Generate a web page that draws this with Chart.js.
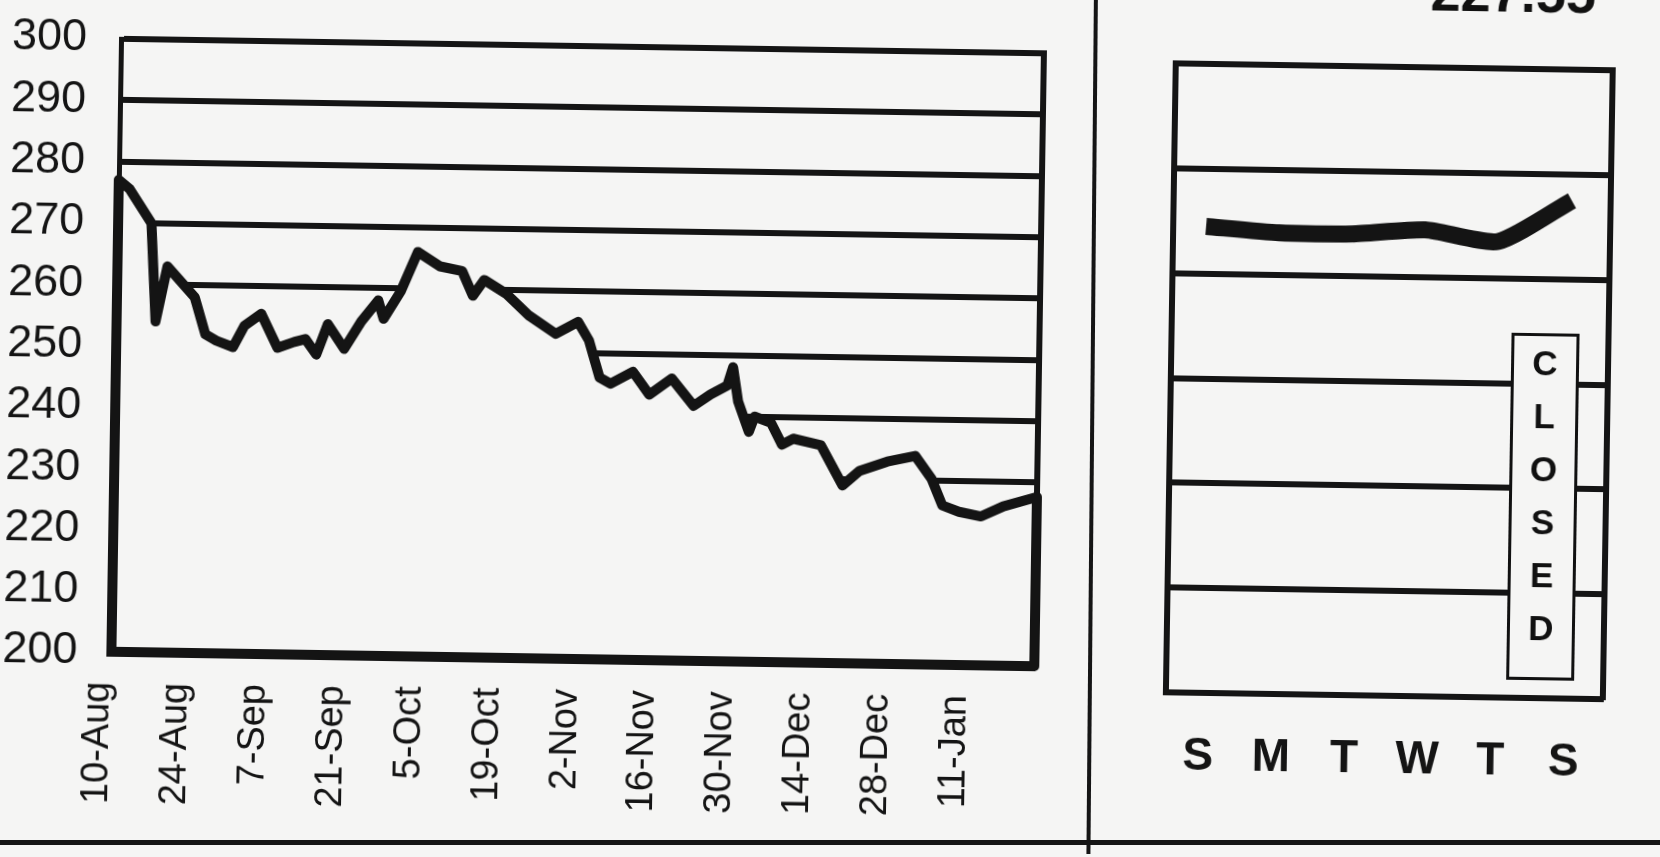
<!DOCTYPE html>
<html>
<head>
<meta charset="utf-8">
<script src="https://cdn.jsdelivr.net/npm/chart.js@4.4.1/dist/chart.umd.min.js"></script>
<style>
html,body{margin:0;padding:0;background:#f5f5f4;}
#page{position:absolute;left:0;top:0;width:1660px;height:857px;overflow:hidden;background:#f5f5f4;}
#rot{position:absolute;left:0;top:0;width:1660px;height:857px;transform-origin:830px 428px;transform:rotate(0.9deg);}
#wrapL{position:absolute;left:0;top:0;width:1090px;height:857px;}
#wrapR{position:absolute;left:1100px;top:0;width:560px;height:857px;}
#vline{position:absolute;left:1090px;top:-30px;width:4px;height:880px;background:#151515;transform:rotate(-0.4deg);}
#hline{position:absolute;left:-20px;top:840px;width:1700px;height:5px;background:#151515;}
#price{position:absolute;right:71px;top:-49px;line-height:54px;font:bold 54px "Liberation Sans",Arial,sans-serif;color:#111;white-space:nowrap;}
#closed{position:absolute;left:410px;top:322px;width:62px;height:341px;border:3px solid #111;background:#f5f5f4;
  display:flex;flex-direction:column;align-items:center;font:bold 35px "Liberation Sans",Arial,sans-serif;color:#111;}
#closed span{display:block;height:53px;line-height:53px;}
canvas{position:absolute;left:0;top:0;}
</style>
</head>
<body>
<div id="page">
  <div id="rot">
    <div id="wrapL"><canvas id="left" width="1090" height="857"></canvas></div>
    <div id="vline"></div>
    <div id="wrapR">
      <canvas id="right" width="560" height="857"></canvas>
      <div id="closed"><span>C</span><span>L</span><span>O</span><span>S</span><span>E</span><span>D</span></div>
    </div>
    <div id="price">227.55</div>
  </div>
  <div id="hline"></div>
</div>
<script>
// ---- data (days after 10-Aug, index value) ----
const dayNumbers = [0,2,6,7,9,14,16,18,21,23,26,29,32,34,36,38,41,44,47,48,51,54,58,62,64,66,70,74,79,83,85,87,89,93,96,100,104,107,110,111,112,114,115,118,120,122,127,131,134,139,144,147,149,152,156,160,166];
const indexValues = [277,275.5,270,254,263,258,252,251,250,253.5,255.5,250,251,251.5,249,254,250,254.5,258,255,259.5,266,263.7,263,259,261.6,259.4,256,253,255,252,246,245,247,243.3,246,241.6,243.5,245,248,242.4,237.5,240,239,235.5,236.5,235.5,229,231.4,233,234,230.3,226,225,224.3,226,227.6];
const tickDays = [0,14,28,42,56,70,84,98,112,126,140,154];
const tickLabels = ['10-Aug','24-Aug','7-Sep','21-Sep','5-Oct','19-Oct','2-Nov','16-Nov','30-Nov','14-Dec','28-Dec','11-Jan'];
const yTicks = [200,210,220,230,240,250,260,270,280,290,300];

const weekLabels = ['S','M','T','W','T','S'];
const weekValues = [226.9,226.8,226.8,226.9,226.7,227.5];
const weekTicks = [218,220,222,224,226,228,230];

const INK = '#141414';
const PAPER = '#f5f5f4';
const FONT = '"Liberation Sans", Arial, sans-serif';
Chart.defaults.font.family = FONT;
Chart.defaults.color = INK;

const noPad = s => { s.paddingTop = 0; s.paddingBottom = 0; s.paddingLeft = 0; s.paddingRight = 0; };

// ---- left chart ----
const yMin = yTicks[0], yMax = yTicks[yTicks.length-1];
const firstDay = dayNumbers[0], lastDay = dayNumbers[dayNumbers.length-1];
const pts = [{x: firstDay, y: yMin}]
  .concat(dayNumbers.map((d,i) => ({x: d, y: indexValues[i]})))
  .concat([{x: lastDay, y: yMin}]);

new Chart(document.getElementById('left'), {
  type: 'line',
  data: { datasets: [{
    data: pts,
    borderColor: INK,
    borderWidth: 10,
    borderJoinStyle: 'round',
    backgroundColor: PAPER,
    fill: 'start',
    pointRadius: 0,
    tension: 0,
    clip: false
  }]},
  options: {
    responsive: false, animation: false, devicePixelRatio: 1,
    layout: { padding: { left: 0, top: 50, right: 52, bottom: 4 } },
    plugins: { legend: { display: false }, tooltip: { enabled: false } },
    scales: {
      x: {
        type: 'linear', min: firstDay, max: lastDay,
        afterFit: s => { s.height = 190; noPad(s); },
        afterBuildTicks: s => { s.ticks = tickDays.map(v => ({ value: v })); },
        grid: { display: false, drawTicks: false },
        border: { display: true, color: INK, width: 10, z: 1 },
        ticks: {
          autoSkip: false, minRotation: 90, maxRotation: 90, padding: 30, labelOffset: -12,
          font: { size: 38 }, color: INK,
          callback: v => tickLabels[tickDays.indexOf(v)]
        }
      },
      y: {
        type: 'linear', min: yMin, max: yMax,
        afterFit: s => { s.width = 115; noPad(s); },
        afterBuildTicks: s => { s.ticks = yTicks.map(v => ({ value: v })); },
        grid: { color: INK, lineWidth: 6, drawTicks: false },
        border: { display: true, color: INK, width: 5, z: 1 },
        ticks: { padding: 34, font: { size: 45 }, color: INK }
      },
      y2: {
        type: 'linear', position: 'right',
        afterFit: s => { s.width = 0; noPad(s); },
        grid: { display: false, drawTicks: false },
        border: { display: true, color: INK, width: 6, z: 1 },
        ticks: { display: false }
      }
    }
  }
});

// ---- right chart ----
new Chart(document.getElementById('right'), {
  type: 'line',
  data: { datasets: [{
    data: weekValues.map((v,i) => ({ x: i, y: v })),
    borderColor: INK,
    borderWidth: 17,
    borderJoinStyle: 'round',
    borderCapStyle: 'butt',
    fill: false,
    pointRadius: 0,
    tension: 0.2
  }]},
  options: {
    responsive: false, animation: false, devicePixelRatio: 1,
    layout: { padding: { left: 70, top: 58, right: 53, bottom: 60 } },
    plugins: { legend: { display: false }, tooltip: { enabled: false } },
    scales: {
      x: {
        type: 'linear', min: -0.45, max: weekLabels.length - 1 + 0.53,
        afterFit: s => { s.height = 110; noPad(s); },
        afterBuildTicks: s => { s.ticks = weekLabels.map((_, i) => ({ value: i })); },
        grid: { display: false, drawTicks: false },
        border: { display: true, color: INK, width: 6, z: 1 },
        ticks: { autoSkip: false, maxRotation: 0, padding: 37, font: { size: 46, weight: 'bold' }, color: INK,
          callback: v => weekLabels[v] }
      },
      y: {
        type: 'linear', min: weekTicks[0], max: weekTicks[weekTicks.length-1],
        afterFit: s => { s.width = 0; noPad(s); },
        afterBuildTicks: s => { s.ticks = weekTicks.map(v => ({ value: v })); },
        grid: { color: INK, lineWidth: 6, drawTicks: false },
        border: { display: true, color: INK, width: 6, z: 1 },
        ticks: { display: false }
      },
      y2: {
        type: 'linear', position: 'right',
        afterFit: s => { s.width = 0; noPad(s); },
        grid: { display: false, drawTicks: false },
        border: { display: true, color: INK, width: 6, z: 1 },
        ticks: { display: false }
      }
    }
  }
});
</script>
</body>
</html>
